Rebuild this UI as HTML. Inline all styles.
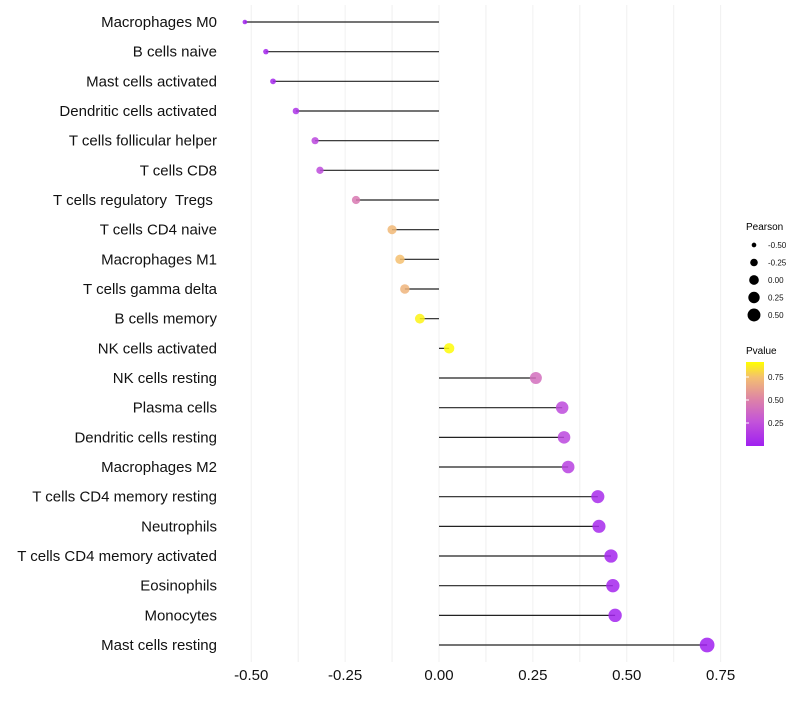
<!DOCTYPE html>
<html><head><meta charset="utf-8"><style>
body{margin:0;background:#fff;font-family:"Liberation Sans",sans-serif}
text{white-space:pre}
</style></head><body>
<svg id="chart" width="800" height="700" xmlns="http://www.w3.org/2000/svg" font-family="Liberation Sans, sans-serif">
<defs><linearGradient id="pg" x1="0" y1="1" x2="0" y2="0">
<stop offset="0" stop-color="#a020f0"/><stop offset="0.3" stop-color="#c455d8"/><stop offset="0.55" stop-color="#dd82a8"/><stop offset="0.82" stop-color="#f4c070"/><stop offset="1" stop-color="#ffff00"/>
</linearGradient></defs>
<g id="grid"></g>
<g id="marks"></g>
<g id="axes"></g>
<g id="legend">
<text x="746" y="230" font-size="10">Pearson</text>
<text x="746" y="354" font-size="10">Pvalue</text>
<rect x="746" y="362" width="18" height="84" fill="url(#pg)"/>
</g>
</svg>
<script>
const cells=["Macrophages M0","B cells naive","Mast cells activated","Dendritic cells activated","T cells follicular helper","T cells CD8","T cells regulatory  Tregs ","T cells CD4 naive","Macrophages M1","T cells gamma delta","B cells memory","NK cells activated","NK cells resting","Plasma cells","Dendritic cells resting","Macrophages M2","T cells CD4 memory resting","Neutrophils","T cells CD4 memory activated","Eosinophils","Monocytes","Mast cells resting"];
const pearson=[-0.517,-0.461,-0.442,-0.381,-0.330,-0.317,-0.221,-0.125,-0.104,-0.091,-0.051,0.027,0.258,0.328,0.333,0.344,0.423,0.426,0.458,0.463,0.469,0.714];
const pvalue=[0.01,0.03,0.04,0.1,0.2,0.22,0.45,0.72,0.75,0.7,0.88,0.9,0.4,0.22,0.2,0.17,0.06,0.05,0.03,0.03,0.025,0.0005];
const xTicks=[-0.5,-0.25,0,0.25,0.5,0.75];
const xTickLabels=["-0.50","-0.25","0.00","0.25","0.50","0.75"];
const sizeLegend=[-0.5,-0.25,0,0.25,0.5];
const sizeLegendLabels=["-0.50","-0.25","0.00","0.25","0.50"];
const colorLegend=[0.25,0.5,0.75];
const colorLegendLabels=["0.25","0.50","0.75"];

const NS="http://www.w3.org/2000/svg";
const x=v=>439+v*375.5;
const y=i=>22+i*29.667;
const r=v=>Math.sqrt(Math.max(2,6+40*(v+0.5)));
const stops=[[0,[160,32,240]],[0.27,[196,85,216]],[0.5,[221,130,168]],[0.75,[244,192,112]],[0.91,[255,255,0]]];
function col(p){p=Math.max(0,Math.min(0.91,p));for(let i=1;i<stops.length;i++){if(p<=stops[i][0]){const a=stops[i-1],b=stops[i],t=(p-a[0])/(b[0]-a[0]);return"rgb("+a[1].map((c,k)=>Math.round(c+(b[1][k]-c)*t)).join(",")+")";}}return"rgb(255,255,0)";}
function mk(tag,at,parent){const e=document.createElementNS(NS,tag);for(const k in at)e.setAttribute(k,at[k]);document.getElementById(parent).appendChild(e);return e;}
for(let v=-0.5;v<=0.75001;v+=0.125){
 const g=mk("line",{x1:x(v),x2:x(v),y1:5,y2:662,stroke:"#f0f0f0","stroke-width":1},"grid");
 
 
}
xTicks.forEach((t,i)=>{
 const e=mk("text",{x:x(t),y:680,"font-size":15,"text-anchor":"middle",fill:"#111"},"axes");e.textContent=xTickLabels[i];
 
 
});
cells.forEach((c,i)=>{
 const t=mk("text",{x:217,y:y(i)+5,"font-size":15,"text-anchor":"end",fill:"#111"},"axes");t.textContent=c;
 
 
 const l=mk("line",{x1:x(0),x2:x(pearson[i]),y1:y(i),y2:y(i),stroke:"#222","stroke-width":1.2},"marks");
 
 
 const p=mk("circle",{cx:x(pearson[i]),cy:y(i),r:r(pearson[i]),fill:col(pvalue[i]),"fill-opacity":0.85},"marks");
 
 
});
sizeLegend.forEach((v,i)=>{
 const cy=245+i*17.5;
 const c=mk("circle",{cx:754,cy:cy,r:r(v)*0.95,fill:"#000"},"legend");
 
 
 const t=mk("text",{x:768,y:cy+3,"font-size":8,fill:"#111"},"legend");t.textContent=sizeLegendLabels[i];
 
 
});
colorLegend.forEach((v,i)=>{
 const cy=446-v*92;
 const t=mk("text",{x:768,y:cy+3,"font-size":8,fill:"#111"},"legend");t.textContent=colorLegendLabels[i];
 
 
 const k=mk("line",{x1:746,x2:749,y1:cy,y2:cy,stroke:"#fff","stroke-width":1},"legend");
 
 
});
</script>
</body></html>
